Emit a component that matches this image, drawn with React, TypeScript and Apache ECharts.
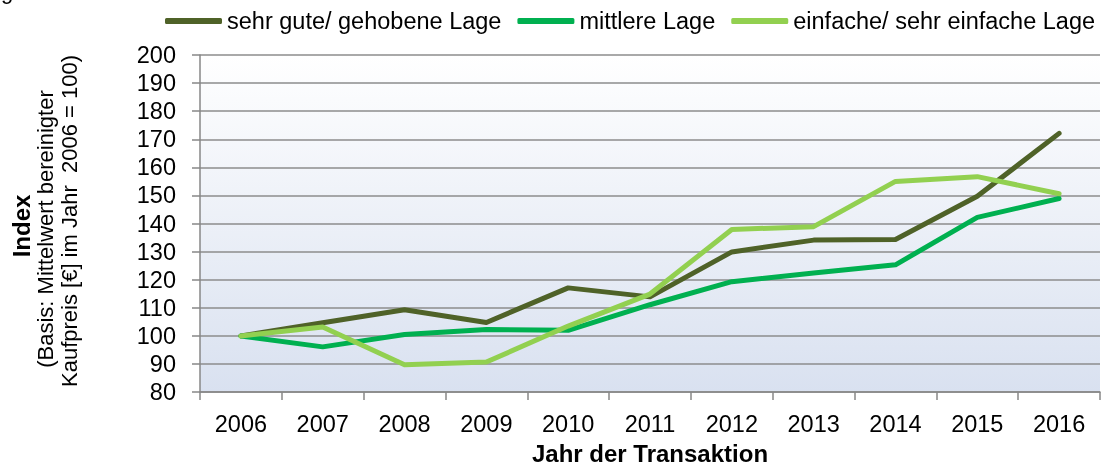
import React, { useEffect, useRef } from "react";
import * as echarts from "echarts";

const years = ["2006", "2007", "2008", "2009", "2010", "2011", "2012", "2013", "2014", "2015", "2016"];
const sehrGute = [100, 104.7, 109.3, 104.8, 117.1, 113.9, 129.9, 134.1, 134.3, 149.7, 172.1];
const mittlere = [100, 96.1, 100.5, 102.3, 102, 111.1, 119.3, 122.4, 125.3, 142.2, 148.9];
const einfache = [100, 103.2, 89.7, 90.7, 103.5, 114.9, 137.9, 138.9, 155, 156.7, 150.6];
const seriesNames = ["sehr gute/ gehobene Lage", "mittlere Lage", "einfache/ sehr einfache Lage"];
const seriesColors = ["#4f6228", "#00b050", "#92d050"];
const yMin = 80;
const yMax = 200;
const yStep = 10;
const xTitle = "Jahr der Transaktion";
const yTitle = ["Index", "(Basis: Mittelwert bereinigter", "Kaufpreis [€] im Jahr  2006 = 100)"];

export default function App() {
  const ref = useRef<HTMLDivElement>(null);
  useEffect(() => {
    const chart = echarts.init(ref.current!, null, { renderer: "svg" });
    const font = "'Liberation Sans', Arial, sans-serif";
    const gray = "#878787";
    const values = [sehrGute, mittlere, einfache];
    chart.setOption({
      animation: false,
      textStyle: { fontFamily: font },
      grid: {
        left: 200,
        right: 2,
        top: 55,
        bottom: 71,
        show: true,
        borderWidth: 0,
        backgroundColor: new echarts.graphic.LinearGradient(0, 0, 0, 1, [
          { offset: 0, color: "#ffffff" },
          { offset: 1, color: "#d9e1f0" },
        ]),
      },
      legend: {
        left: 165,
        top: 9,
        width: 937,
        padding: 0,
        icon: "roundRect",
        itemWidth: 57,
        itemHeight: 6,
        itemGap: 16,
        data: seriesNames,
        textStyle: { fontSize: 23.5, color: "#000", fontFamily: font },
      },
      xAxis: {
        type: "category",
        data: years,
        boundaryGap: true,
        axisLine: { show: true, lineStyle: { color: gray, width: 1.5 } },
        axisTick: { show: true, length: 8, interval: 0, lineStyle: { color: gray, width: 1.5 } },
        axisLabel: { fontSize: 23.5, color: "#000", margin: 20, interval: 0, fontFamily: font },
        name: xTitle,
        nameLocation: "middle",
        nameGap: 45,
        nameTextStyle: { fontSize: 24, fontWeight: "bold", color: "#000", fontFamily: font },
      },
      yAxis: {
        type: "value",
        min: yMin,
        max: yMax,
        interval: yStep,
        axisLine: { show: true, lineStyle: { color: gray, width: 1.5 } },
        axisTick: { show: true, length: 8, lineStyle: { color: gray, width: 1.5 } },
        axisLabel: { fontSize: 23.5, color: "#000", margin: 24, fontFamily: font },
        splitLine: { show: true, lineStyle: { color: "#8c8c8c", width: 1.5 } },
      },
      graphic: [
        {
          type: "text",
          x: 1,
          y: 2,
          style: { text: "g", fontSize: 22, fontFamily: font, fill: "#000", verticalAlign: "bottom", align: "left" },
        },
        {
          type: "text",
          x: 21,
          y: 226,
          rotation: Math.PI / 2,
          style: { text: yTitle[0], fontSize: 24, fontWeight: "bold", fontFamily: font, fill: "#000", align: "center", verticalAlign: "middle" },
        },
        {
          type: "text",
          x: 45,
          y: 229,
          rotation: Math.PI / 2,
          style: { text: yTitle[1], fontSize: 22, fontFamily: font, fill: "#000", align: "center", verticalAlign: "middle" },
        },
        {
          type: "text",
          x: 69,
          y: 221,
          rotation: Math.PI / 2,
          style: { text: yTitle[2], fontSize: 22, fontFamily: font, fill: "#000", align: "center", verticalAlign: "middle" },
        },
      ],
      series: seriesNames.map((name, i) => ({
        name,
        type: "line",
        data: values[i],
        symbol: "none",
        itemStyle: { color: seriesColors[i] },
        lineStyle: { color: seriesColors[i], width: 5, cap: "round", join: "round" },
      })),
    });
    return () => chart.dispose();
  }, []);
  return <div ref={ref} style={{ position: "fixed", left: 0, top: 0, width: 1102, height: 470 }} />;
}
